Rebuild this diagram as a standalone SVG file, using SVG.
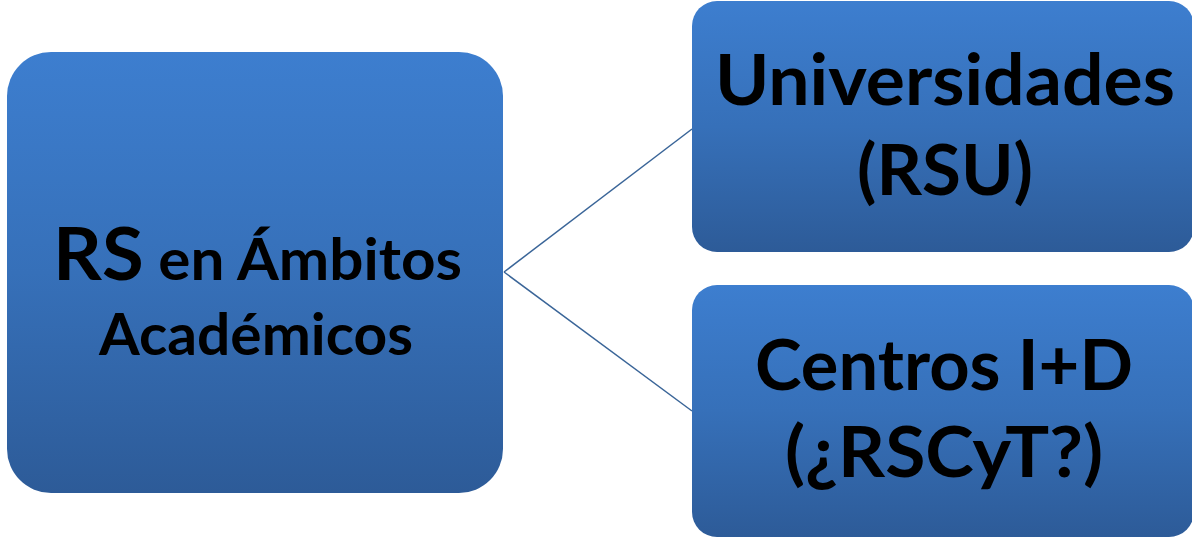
<svg xmlns="http://www.w3.org/2000/svg" width="1192" height="541" viewBox="0 0 1192 541">
  <defs>
    <linearGradient id="g" x1="0" y1="0" x2="0" y2="1">
      <stop offset="0" stop-color="#3D7ECF"/>
      <stop offset="0.5" stop-color="#3670B9"/>
      <stop offset="1" stop-color="#2D5B98"/>
    </linearGradient>
    <style>
      .box { fill: url(#g); }
      .t { font-family: Lato, "Open Sans", "Liberation Sans", sans-serif; font-weight: bold; fill: #000; text-anchor: middle; }
      .conn { stroke: #3A6598; stroke-width: 1.5; fill: none; }
    </style>
  </defs>
  <rect width="1192" height="541" fill="#fff"/>
  <g id="connectors">
    <line class="conn" x1="504" y1="272" x2="692" y2="129"/>
    <line class="conn" x1="504" y1="272" x2="692" y2="411"/>
  </g>
  <g id="node-main">
    <rect class="box" x="7" y="52" width="496" height="441" rx="44" ry="44"/>
    <text class="t" x="257.5" y="280" textLength="409" lengthAdjust="spacingAndGlyphs"><tspan font-size="72">RS</tspan><tspan font-size="57"> en Ámbitos</tspan></text>
    <text class="t" x="256" y="355" font-size="57" textLength="314" lengthAdjust="spacingAndGlyphs">Académicos</text>
  </g>
  <g id="node-universidades">
    <rect class="box" x="692" y="1" width="502" height="251" rx="25" ry="25"/>
    <text class="t" x="945" y="105" font-size="70" textLength="460" lengthAdjust="spacingAndGlyphs">Universidades</text>
    <text class="t" x="945" y="195" font-size="70" textLength="176" lengthAdjust="spacingAndGlyphs">(RSU)</text>
  </g>
  <g id="node-centros">
    <rect class="box" x="692" y="285" width="502" height="252" rx="25" ry="25"/>
    <text class="t" x="944" y="390" font-size="70" textLength="378" lengthAdjust="spacingAndGlyphs">Centros I+D</text>
    <text class="t" x="944" y="477" font-size="70" textLength="318" lengthAdjust="spacingAndGlyphs">(¿RSCyT?)</text>
  </g>
</svg>
